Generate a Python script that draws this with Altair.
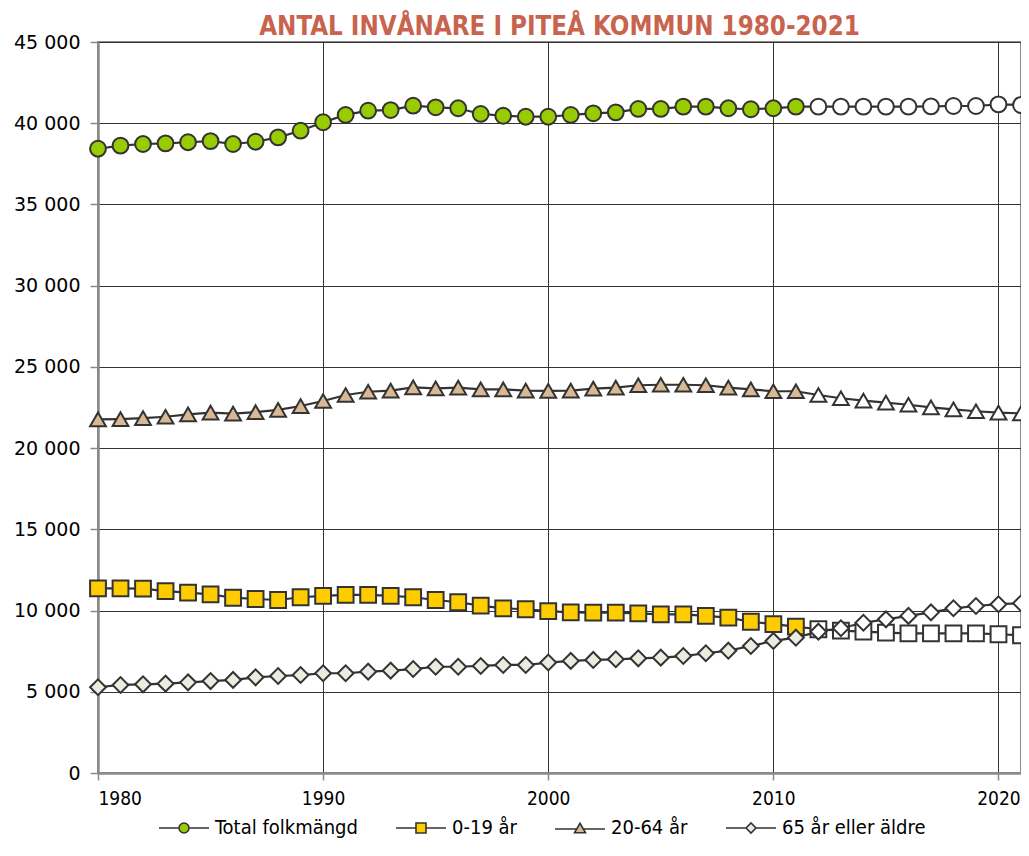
import altair as alt
import pandas as pd

years = list(range(1980, 2022))
total = [38430, 38620, 38720, 38760, 38830, 38900, 38720, 38860, 39130, 39540,
         40060, 40510, 40770, 40810, 41080, 40980, 40920, 40570, 40460, 40400,
         40400, 40510, 40610, 40670, 40880, 40880, 41020, 41020, 40920, 40860,
         40920, 41020, 41020, 41020, 41020, 41020, 41020, 41040, 41060, 41060,
         41160, 41120]
age_0_19 = [11370, 11370, 11350, 11200, 11100, 11000, 10790, 10710, 10650, 10820,
            10900, 10960, 10960, 10900, 10820, 10650, 10510, 10300, 10140, 10080,
            9970, 9890, 9870, 9870, 9830, 9770, 9770, 9670, 9560, 9310,
            9170, 9010, 8850, 8760, 8700, 8640, 8600, 8600, 8600, 8600,
            8540, 8480]
age_20_64 = [21770, 21790, 21840, 21930, 22080, 22180, 22120, 22210, 22350, 22590,
             22900, 23270, 23470, 23540, 23740, 23680, 23720, 23620, 23620, 23540,
             23520, 23540, 23660, 23720, 23870, 23900, 23900, 23870, 23720, 23620,
             23500, 23500, 23270, 23070, 22920, 22800, 22670, 22510, 22390, 22270,
             22180, 22140]
age_65 = [5280, 5420, 5460, 5500, 5580, 5660, 5730, 5890, 5970, 6030,
          6140, 6140, 6240, 6300, 6400, 6540, 6540, 6590, 6650, 6650,
          6800, 6900, 6960, 7000, 7060, 7100, 7200, 7370, 7530, 7820,
          8130, 8330, 8700, 8910, 9250, 9460, 9670, 9890, 10140, 10280,
          10390, 10450]
series_names = ["Total folkmängd", "0-19 år", "20-64 år", "65 år eller äldre"]
last_actual_year = 2011
x_ticks = [1980, 1990, 2000, 2010, 2020]

rows = []
for name, vals in zip(series_names, [total, age_0_19, age_20_64, age_65]):
    for yr, v in zip(years, vals):
        rows.append({"year": yr, "value": v, "series": name,
                     "utfall": yr <= last_actual_year})
df = pd.DataFrame(rows)

fills = ["#99CC00", "#FFCC00", "#D9B896", "#EDEADF"]
shapes = ["circle", "square", "triangle-up", "diamond"]
legend_paths = [
    "M-5,0H-1M1,0H5M-1,0A1,1,0,1,0,1,0A1,1,0,1,0,-1,0Z",
    "M-5,0H-1M1,0H5M-1,-1H1V1H-1Z",
    "M-5,0.2H-0.8M0.8,0.2H5M0,-0.95L1.1,0.95H-1.1Z",
    "M-5,0H-1M1,0H5M-1,0L0,-1L1,0L0,1Z",
]
ink = "#333333"

x_enc = alt.X("year:Q",
              scale=alt.Scale(domain=[1980, 2021], nice=False, zero=False),
              axis=alt.Axis(values=x_ticks, format="d", title=None,
                            grid=True, gridColor=ink, gridWidth=1,
                            domainColor="#8a8a8a", domainWidth=2.5,
                            tickColor="#8a8a8a", tickWidth=1.5, tickSize=7,
                            labelFont="DejaVu Sans Condensed", labelFontSize=19,
                            labelColor="#000000", labelPadding=9))
y_enc = alt.Y("value:Q",
              scale=alt.Scale(domain=[0, 45000], nice=False),
              axis=alt.Axis(values=list(range(0, 45001, 5000)), title=None,
                            labelExpr="replace(format(datum.value, ','), ',', ' ')",
                            grid=True, gridColor=ink, gridWidth=1,
                            domainColor="#8a8a8a", domainWidth=2.5,
                            tickColor="#8a8a8a", tickWidth=1.5, tickSize=8,
                            labelFont="DejaVu Sans", labelFontSize=19,
                            labelColor="#000000", labelPadding=10))

base = alt.Chart(df)

lines = base.mark_line(color=ink, strokeWidth=2.2).encode(
    x=x_enc, y=y_enc, detail="series:N",
    order="year:Q")

points = base.mark_point(filled=True, size=250, stroke=ink, strokeWidth=2,
                         opacity=1).encode(
    x=x_enc, y=y_enc,
    shape=alt.Shape("series:N",
                    scale=alt.Scale(domain=series_names, range=shapes),
                    legend=None),
    fill=alt.condition("datum.utfall",
                       alt.Fill("series:N",
                                scale=alt.Scale(domain=series_names, range=fills),
                                legend=None),
                       alt.value("white")),
)

legend_layer = base.transform_filter("false").mark_point(
    filled=True, strokeWidth=1.6, opacity=1).encode(
    x=x_enc, y=y_enc,
    shape=alt.Shape("series:N",
                    scale=alt.Scale(domain=series_names, range=legend_paths),
                    legend=alt.Legend(title=None)),
    fill=alt.Fill("series:N",
                  scale=alt.Scale(domain=series_names, range=fills),
                  legend=alt.Legend(title=None)),
    stroke=alt.Stroke("series:N",
                      scale=alt.Scale(domain=series_names, range=[ink] * 4),
                      legend=alt.Legend(title=None)),
)

chart = alt.layer(lines, points, legend_layer).resolve_scale(
    shape="independent", fill="independent", stroke="independent"
).properties(
    width=923, height=731,
    padding={"left": 90, "top": 34, "right": 0, "bottom": 69},
    autosize=alt.AutoSizeParams(type="none"),
    title=alt.TitleParams(
        "ANTAL INVÅNARE I PITEÅ KOMMUN 1980-2021",
        color="#C8634D", font="DejaVu Sans Condensed", fontSize=25.7,
        fontWeight="bold", anchor="middle", offset=-8),
).configure_view(
    stroke="#8a8a8a", strokeWidth=2
).configure_legend(
    orient="none", legendX=76, legendY=776, direction="horizontal",
    symbolSize=100, symbolStrokeWidth=1.6,
    labelFont="DejaVu Sans Condensed", labelFontSize=20, labelColor="#000000",
    columnPadding=34, labelOffset=21, symbolOpacity=1,
)

chart.save("out.html", embed_options={"renderer": "svg", "actions": False})
